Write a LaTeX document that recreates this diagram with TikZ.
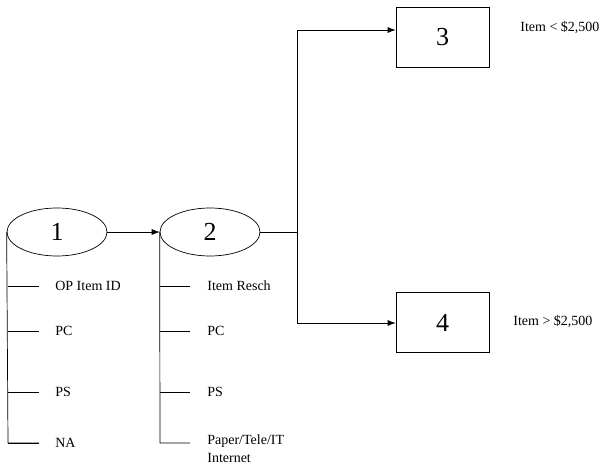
\documentclass[tikz,border=0pt]{standalone}
\usepackage{fontspec}
\setmainfont{Liberation Serif}
\usetikzlibrary{shapes.geometric,arrows.meta}
\begin{document}
\begin{tikzpicture}[x=1pt,y=-1pt,
  oval/.style={draw,ellipse,minimum width=100pt,minimum height=48pt,inner sep=0pt,font=\fontsize{26}{26}\selectfont},
  sq/.style={draw,rectangle,minimum width=93pt,minimum height=60pt,inner sep=0pt,font=\fontsize{26}{26}\selectfont},
  lbl/.style={anchor=west,inner sep=0pt,font=\fontsize{14}{18}\selectfont},
  arr/.style={-{Latex[length=8pt,width=6pt]}},
  line width=0.7pt]
\useasboundingbox (0,0) rectangle (606,470);
\node[oval] (e1) at (57,232) {1};
\node[oval] (e2) at (210,232) {2};
\node[sq] (b3) at (442.5,37.5) {3};
\node[sq] (b4) at (442.5,322.5) {4};
\node[lbl] (t3) at (520,28) {Item < \$2,500};
\node[lbl] (t4) at (513,322) {Item > \$2,500};
\coordinate (s) at (297,232);
\draw[arr] (e1.east) -- (e2.west);
\draw (e2.east) -- (s);
\draw[arr] (s) |- (b3.west |- 0,30);
\draw[arr] (s) |- (b4.west |- 0,323);
% branches of 1
\coordinate (a4) at (8,443);
\draw (e1.west) -- (a4) -- (39,443);
\foreach \y/\t [count=\i] in {286/OP Item ID,331/PC,392/PS,443/NA}{
  \coordinate (ta\i) at (39,\y);
  \draw (8,\y) -- (ta\i);
  \node[lbl] (la\i) at (55,\y) {\t};
}
% branches of 2
\coordinate (c4) at (160,443);
\draw (e2.west) -- (c4) -- (190,443);
\foreach \y/\t [count=\i] in {286/Item Resch,331/PC,392/PS}{
  \coordinate (tb\i) at (190,\y);
  \draw (160,\y) -- (tb\i);
  \node[lbl] (lb\i) at (207,\y) {\t};
}
\node[lbl,anchor=north west,align=left] (lb4) at (207,434) {Paper/Tele/IT\\Internet};
\end{tikzpicture}
\end{document}
